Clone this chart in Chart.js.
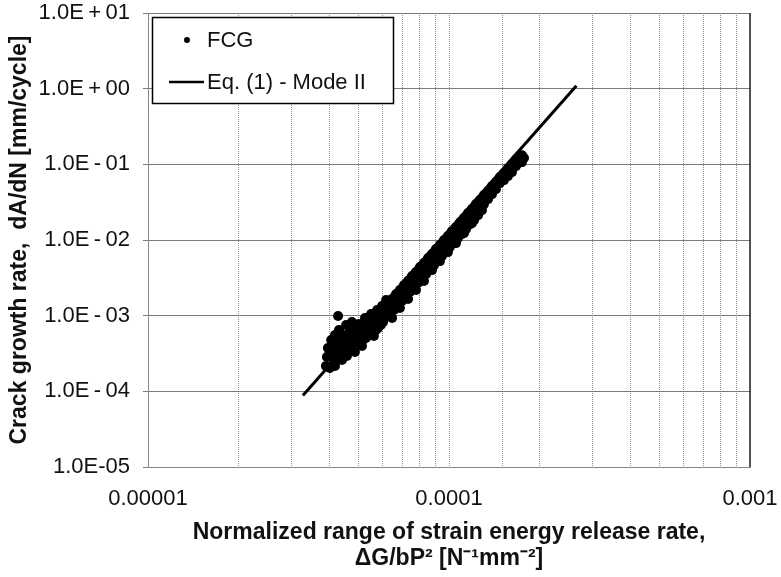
<!DOCTYPE html>
<html>
<head>
<meta charset="utf-8">
<script src="https://cdn.jsdelivr.net/npm/chart.js@4.4.0/dist/chart.umd.min.js"></script>
<style>
  html, body { margin: 0; padding: 0; background: #fff; }
  #wrap { width: 781px; height: 577px; position: relative; }
</style>
</head>
<body>
<div id="wrap"><canvas id="fcgChart"></canvas></div>
<script>
// FCG test points (normalized dG/bP^2, crack growth rate dA/dN)
var fcgX = [
  // low-rate scatter
  3.90e-5, 3.93e-5, 3.96e-5, 4.02e-5, 4.06e-5, 4.12e-5, 4.15e-5, 4.21e-5, 4.25e-5, 4.28e-5,
  4.31e-5, 4.34e-5, 4.38e-5, 4.41e-5, 4.44e-5, 4.51e-5, 4.55e-5, 4.58e-5, 4.62e-5, 4.69e-5,
  4.72e-5, 4.76e-5, 4.83e-5, 4.87e-5, 4.91e-5, 4.99e-5, 5.02e-5, 5.10e-5, 5.14e-5, 5.22e-5,
  5.26e-5, 5.30e-5, 5.38e-5, 5.42e-5, 5.51e-5, 5.55e-5, 5.63e-5, 5.68e-5, 5.77e-5, 5.81e-5,
  5.90e-5, 5.99e-5, 6.04e-5, 6.13e-5, 6.18e-5,
  3.99e-5, 4.09e-5, 4.18e-5, 4.28e-5, 4.48e-5, 4.65e-5, 4.80e-5, 4.95e-5, 5.06e-5, 5.18e-5,
  5.34e-5, 5.47e-5, 5.59e-5, 5.72e-5, 5.85e-5, 5.94e-5, 6.08e-5, 6.22e-5, 4.18e-5, 4.48e-5,
  // main band
  6.27e-5, 6.27e-5,   6.37e-5, 6.37e-5,
  6.47e-5, 6.47e-5, 6.47e-5,   6.57e-5, 6.57e-5,
  6.67e-5, 6.67e-5,   6.77e-5, 6.77e-5,
  6.87e-5, 6.87e-5, 6.87e-5,   6.98e-5, 6.98e-5,
  7.09e-5, 7.09e-5,   7.20e-5, 7.20e-5,
  7.31e-5, 7.31e-5, 7.31e-5,   7.42e-5, 7.42e-5,
  7.54e-5, 7.54e-5,   7.65e-5, 7.65e-5,
  7.77e-5, 7.77e-5, 7.77e-5,   7.89e-5, 7.89e-5,
  8.01e-5, 8.01e-5,   8.13e-5, 8.13e-5,
  8.26e-5, 8.26e-5, 8.26e-5,   8.39e-5, 8.39e-5,
  8.52e-5, 8.52e-5,   8.65e-5, 8.65e-5,
  8.78e-5, 8.78e-5, 8.78e-5,   8.92e-5, 8.92e-5,
  9.05e-5, 9.05e-5,   9.19e-5, 9.19e-5,
  9.33e-5, 9.33e-5, 9.33e-5,   9.48e-5, 9.48e-5,
  9.63e-5, 9.63e-5,   9.77e-5, 9.77e-5,
  9.92e-5, 9.92e-5, 9.92e-5,   1.007e-4, 1.007e-4,
  1.023e-4, 1.023e-4,   1.039e-4, 1.039e-4,
  1.055e-4, 1.055e-4, 1.055e-4,   1.071e-4, 1.071e-4,
  1.088e-4, 1.088e-4,   1.105e-4, 1.105e-4,
  1.121e-4, 1.121e-4, 1.121e-4,   1.139e-4, 1.139e-4,
  1.157e-4, 1.157e-4,   1.175e-4, 1.175e-4,
  1.192e-4, 1.192e-4, 1.192e-4,   1.211e-4, 1.211e-4,
  1.229e-4, 1.229e-4,   1.249e-4, 1.249e-4,
  1.268e-4, 1.268e-4, 1.268e-4,   1.287e-4, 1.287e-4,
  1.307e-4, 1.307e-4,
  1.348e-4, 1.348e-4,
  1.390e-4, 1.390e-4,
  1.432e-4, 1.432e-4,
  1.476e-4, 1.476e-4,
  1.523e-4, 1.523e-4,
  1.570e-4, 1.570e-4,
  1.619e-4, 1.619e-4,
  1.669e-4, 1.669e-4,
  1.708e-4, 1.708e-4,
  1.748e-4, 1.748e-4,
  1.775e-4
];
var fcgY = [
  // low-rate scatter
  2.16e-4, 2.84e-4, 3.73e-4, 2.03e-4, 4.76e-4, 3.31e-4, 2.44e-4, 4.09e-4, 2.93e-4, 9.88e-4,
  6.45e-4, 4.76e-4, 3.51e-4, 2.59e-4, 5.54e-4, 3.97e-4, 7.51e-4, 2.93e-4, 5.06e-4, 6.45e-4,
  3.73e-4, 8.23e-4, 4.76e-4, 3.31e-4, 6.45e-4, 4.35e-4, 7.75e-4, 5.54e-4, 3.97e-4, 6.86e-4,
  9.30e-4, 5.06e-4, 8.23e-4, 6.07e-4, 1.05e-3, 7.29e-4, 5.38e-4, 9.30e-4, 1.19e-3, 6.86e-4,
  9.30e-4, 1.34e-3, 8.23e-4, 1.12e-3, 1.61e-3,
  3.02e-4, 3.97e-4, 5.54e-4, 3.51e-4, 3.31e-4, 4.09e-4, 5.89e-4, 5.22e-4, 7.51e-4, 4.76e-4,
  6.45e-4, 7.51e-4, 8.75e-4, 6.45e-4, 1.12e-3, 7.51e-4, 9.30e-4, 1.26e-3, 2.16e-4, 4.48e-4,
  // main band
  1.47e-3, 1.02e-3,   1.30e-3, 1.02e-3,
  1.66e-3, 1.19e-3, 9.30e-4,   1.51e-3, 1.19e-3,
  1.93e-3, 1.34e-3,   1.71e-3, 1.34e-3,
  2.18e-3, 1.61e-3, 1.26e-3,   1.99e-3, 1.56e-3,
  2.54e-3, 1.82e-3,   2.25e-3, 1.76e-3,
  2.87e-3, 2.11e-3, 1.66e-3,   2.62e-3, 2.05e-3,
  3.34e-3, 2.39e-3,   2.95e-3, 2.32e-3,
  3.77e-3, 2.78e-3, 2.18e-3,   3.44e-3, 2.70e-3,
  4.39e-3, 3.14e-3,   3.88e-3, 3.04e-3,
  4.95e-3, 3.65e-3, 2.87e-3,   4.52e-3, 3.54e-3,
  5.77e-3, 4.26e-3,   5.11e-3, 4.00e-3,
  6.51e-3, 4.95e-3, 4.00e-3,   5.95e-3, 4.66e-3,
  7.58e-3, 5.59e-3,   6.71e-3, 5.26e-3,
  8.56e-3, 6.51e-3, 5.26e-3,   7.82e-3, 6.13e-3,
  9.97e-3, 7.36e-3,   8.83e-3, 6.92e-3,
  1.13e-2, 8.56e-3, 6.92e-3,   1.03e-2, 8.06e-3,
  1.31e-2, 9.67e-3,   1.16e-2, 9.10e-3,
  1.48e-2, 1.13e-2, 9.10e-3,   1.35e-2, 1.06e-2,
  1.72e-2, 1.27e-2,   1.53e-2, 1.20e-2,
  1.95e-2, 1.48e-2, 1.23e-2,   1.78e-2, 1.39e-2,
  2.27e-2, 1.72e-2,   2.07e-2, 1.62e-2,
  2.56e-2, 1.95e-2, 1.67e-2,   2.34e-2, 1.83e-2,
  2.98e-2, 2.34e-2,   2.72e-2, 2.13e-2,
  3.37e-2, 2.64e-2, 2.41e-2,   3.07e-2, 2.48e-2,
  3.92e-2, 2.98e-2,
  4.43e-2, 3.47e-2,
  5.15e-2, 4.04e-2,
  5.82e-2, 4.70e-2,
  6.78e-2, 5.65e-2,
  7.65e-2, 6.19e-2,
  8.91e-2, 6.99e-2,
  1.01e-1, 7.89e-2,
  1.17e-1, 9.47e-2,
  1.28e-1, 1.04e-1,
  1.32e-1, 1.07e-1,
  1.21e-1
];

// Eq. (1) - Mode II fit line end points
var eqX = [3.27e-5, 2.65e-4];
var eqY = [8.8e-5, 1.09];

// axis ticks
var yTickValues = [1e-5, 1e-4, 1e-3, 1e-2, 1e-1, 1, 10];
var yTickLabels = ["1.0E-05", "1.0E\u2009-\u200904", "1.0E\u2009-\u200903", "1.0E\u2009-\u200902",
                   "1.0E\u2009-\u200901", "1.0E\u2009+\u200900", "1.0E\u2009+\u200901"];
var xTickValues = [1e-5, 1e-4, 1e-3];
var xTickLabels = ["0.00001", "0.0001", "0.001"];

var FONT = "'Liberation Sans', Arial, sans-serif";

function pairs(xs, ys) {
  return xs.map(function (x, i) { return { x: x, y: ys[i] }; });
}

// legend drawn as a framed box in the upper left of the plot
var boxLegend = {
  id: "boxLegend",
  afterDraw: function (chart) {
    var ctx = chart.ctx;
    var a = chart.chartArea;
    var ds = chart.data.datasets;
    ctx.save();
    // right frame line
    ctx.strokeStyle = "#222";
    ctx.lineWidth = 1.5;
    ctx.beginPath();
    ctx.moveTo(a.right, a.top);
    ctx.lineTo(a.right, a.bottom);
    ctx.stroke();

    ctx.fillStyle = "#fff";
    ctx.fillRect(a.left + 4.5, a.top + 4.5, 241, 86);
    ctx.strokeStyle = "#000";
    ctx.lineWidth = 1.5;
    ctx.strokeRect(a.left + 4.5, a.top + 4.5, 241, 86);

    ctx.fillStyle = "#000";
    ctx.beginPath();
    ctx.arc(a.left + 39, a.top + 27, 3, 0, Math.PI * 2);
    ctx.fill();

    ctx.lineWidth = 2.5;
    ctx.beginPath();
    ctx.moveTo(a.left + 21, a.top + 69);
    ctx.lineTo(a.left + 56, a.top + 69);
    ctx.stroke();

    ctx.font = "22px " + FONT;
    ctx.textBaseline = "middle";
    ctx.fillStyle = "#111";
    ctx.fillText(ds[1].label, a.left + 59, a.top + 28);
    ctx.fillText(ds[0].label, a.left + 59, a.top + 70);
    ctx.restore();
  }
};

var ctx = document.getElementById("fcgChart").getContext("2d");

var myChart = new Chart(ctx, {
  type: "scatter",
  data: {
    datasets: [
      {
        label: "Eq. (1) - Mode II",
        data: pairs(eqX, eqY),
        showLine: true,
        borderColor: "#000",
        borderWidth: 3,
        pointRadius: 0,
        order: 0,
      },
      {
        label: "FCG",
        data: pairs(fcgX, fcgY),
        backgroundColor: "#000",
        borderWidth: 0,
        pointRadius: 5,
        order: 1,
      },
    ],
  },
  options: {
    responsive: true,
    maintainAspectRatio: false,
    animation: false,
    layout: { padding: { top: 13, right: 31, left: 0, bottom: 0 } },
    plugins: {
      legend: { display: false },
      tooltip: { enabled: false },
    },
    scales: {
      x: {
        type: "logarithmic",
        position: "bottom",
        min: 1e-5,
        max: 1e-3,
        afterFit: function (scale) {
          scale.height = 110;
          scale.paddingLeft = 0;
          scale.paddingRight = 0;
        },
        grid: { color: "#8c8c8c", lineWidth: 1, drawTicks: false },
        border: { display: true, color: "#888", width: 1, dash: [1, 1] },
        ticks: {
          autoSkip: false,
          maxRotation: 0,
          padding: 19,
          color: "#111",
          font: { family: FONT, size: 22 },
          callback: function (value) {
            for (var i = 0; i < xTickValues.length; i++) {
              if (Math.abs(value / xTickValues[i] - 1) < 1e-6) return xTickLabels[i];
            }
            return "";
          },
        },
        title: {
          display: true,
          text: ["Normalized range of strain energy release rate,", "\u0394G/bP\u00b2 [N\u207b\u00b9mm\u207b\u00b2]"],
          color: "#111",
          font: { family: FONT, size: 23, weight: "bold", lineHeight: 26 / 23 },
          padding: { top: 0, bottom: 5 },
        },
      },
      y: {
        type: "logarithmic",
        min: 1e-5,
        max: 10,
        afterBuildTicks: function (scale) {
          scale.ticks = yTickValues.map(function (v) { return { value: v }; });
        },
        afterFit: function (scale) {
          scale.width = 148;
          scale.paddingTop = 0;
          scale.paddingBottom = 0;
        },
        grid: { color: "#7a7a7a", lineWidth: 1, tickLength: 5, tickColor: "#7a7a7a" },
        border: { color: "#888", width: 1 },
        ticks: {
          padding: 13,
          color: "#111",
          font: { family: FONT, size: 22 },
          callback: function (value, index) { return yTickLabels[index]; },
        },
        title: {
          display: true,
          text: "Crack growth rate,  dA/dN [mm/cycle]",
          color: "#111",
          font: { family: FONT, size: 23, weight: "bold", lineHeight: 26 / 23 },
          padding: { top: 7, bottom: 0 },
        },
      },
    },
  },
  plugins: [boxLegend],
});
</script>
</body>
</html>
